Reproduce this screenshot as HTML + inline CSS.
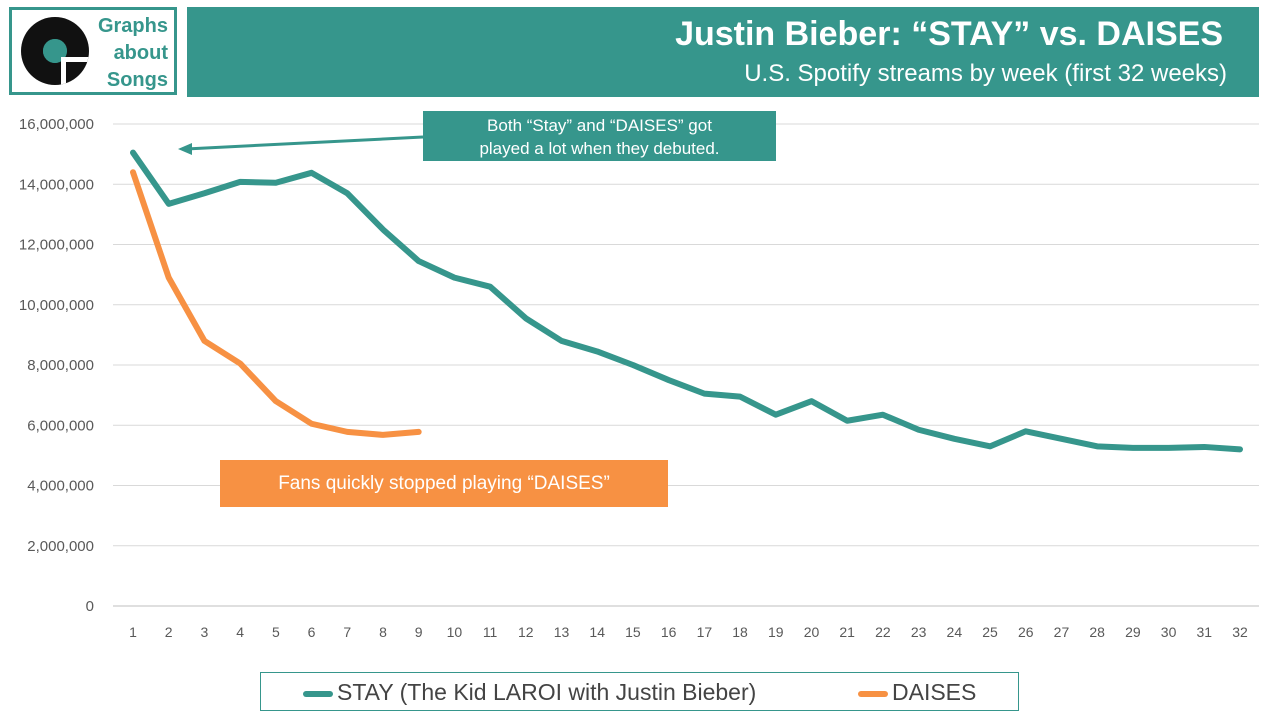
<!DOCTYPE html>
<html><head><meta charset="utf-8"><style>
body{margin:0;width:1280px;height:720px;background:#fff;font-family:"Liberation Sans",sans-serif;overflow:hidden;position:relative}
.abs{position:absolute}
</style></head><body>
<div class="abs" style="left:9px;top:7px;width:168px;height:88px;border:3px solid #36968c;box-sizing:border-box;overflow:hidden">
<svg width="80" height="78" style="position:absolute;left:5px;top:3px">
<defs><clipPath id="disc"><circle cx="38" cy="38" r="34"/></clipPath></defs>
<circle cx="38" cy="38" r="34" fill="#111"/><circle cx="38" cy="38" r="12" fill="#36968c"/>
<g clip-path="url(#disc)"><rect x="44" y="44" width="40" height="40" fill="#fff"/>
<rect x="49" y="49" width="40" height="40" fill="#111"/></g>
<circle cx="38" cy="38" r="12" fill="#36968c" clip-path="polygon(0 0,100% 0,100% 56%,61% 56%,61% 100%,0 100%)"/>
</svg>
<div class="abs" style="right:6px;top:3px;text-align:right;color:#36968c;font-weight:bold;font-size:20px;line-height:27px">Graphs<br>about<br>Songs</div>
</div>
<div class="abs" style="left:187px;top:7px;width:1072px;height:90px;background:#36968c;color:#fff;text-align:right">
<div style="position:absolute;right:36px;top:8px;font-size:34px;font-weight:bold">Justin Bieber: “STAY” vs. DAISES</div>
<div style="position:absolute;right:32px;top:53px;font-size:24px">U.S. Spotify streams by week (first 32 weeks)</div>
</div>
<svg id="chart" class="abs" style="left:0;top:0" width="1280" height="720"></svg>
<div class="abs" style="left:423px;top:111px;width:353px;height:50px;background:#36968c;color:#fff;font-size:17px;text-align:center;line-height:23px;padding-top:3px;box-sizing:border-box">Both “Stay” and “DAISES” got<br>played a lot when they debuted.</div>
<div class="abs" style="left:220px;top:460px;width:448px;height:47px;background:#f79143;color:#fff;font-size:19px;text-align:center;line-height:47px">Fans quickly stopped playing “DAISES”</div>
<div class="abs" style="left:260px;top:672px;width:759px;height:39px;border:1px solid #36968c;box-sizing:border-box;font-size:23px;color:#444">
<span style="position:absolute;left:42px;top:6px"><span style="display:inline-block;width:30px;height:6px;background:#36968c;border-radius:3px;vertical-align:middle;margin-right:4px"></span>STAY (The Kid LAROI with Justin Bieber)</span>
<span style="position:absolute;left:597px;top:6px"><span style="display:inline-block;width:30px;height:6px;background:#f79143;border-radius:3px;vertical-align:middle;margin-right:4px"></span>DAISES</span>
</div>
<script>
const weeks=[1,2,3,4,5,6,7,8,9,10,11,12,13,14,15,16,17,18,19,20,21,22,23,24,25,26,27,28,29,30,31,32];
const stay=[15.05,13.35,13.7,14.08,14.05,14.38,13.7,12.5,11.45,10.9,10.6,9.55,8.8,8.45,8.0,7.5,7.05,6.95,6.35,6.8,6.15,6.35,5.85,5.55,5.3,5.8,5.55,5.3,5.25,5.25,5.28,5.2].map(v=>v*1e6);
const daises=[14.4,10.9,8.8,8.05,6.8,6.05,5.78,5.68,5.78].map(v=>v*1e6);
const yTicks=[0,2e6,4e6,6e6,8e6,10e6,12e6,14e6,16e6];
const svg=document.getElementById('chart'),NS='http://www.w3.org/2000/svg';
const x=w=>133+(w-1)*(1240-133)/31;
const y=v=>606-v*(606-124)/16e6;
function mk(t,a){const e=document.createElementNS(NS,t);for(const k in a)e.setAttribute(k,a[k]);svg.appendChild(e);return e;}
yTicks.forEach(t=>{
 const g=mk('line',{x1:113,x2:1259,y1:y(t),y2:y(t),stroke:t?'#d9d9d9':'#bfbfbf','stroke-width':1});
 
 
 const l=mk('text',{x:94,y:y(t)+5,'text-anchor':'end','font-size':15,fill:'#595959','font-family':'Liberation Sans'});
 l.textContent=t.toLocaleString('en-US');
 
 
});
weeks.forEach(w=>{
 const l=mk('text',{x:x(w),y:637,'text-anchor':'middle','font-size':14,fill:'#595959','font-family':'Liberation Sans'});
 l.textContent=w;
 
 
});
function line(d,c,n){
 const p=mk('polyline',{points:d.map((v,i)=>x(weeks[i])+','+y(v)).join(' '),fill:'none',stroke:c,'stroke-width':6,'stroke-linejoin':'round','stroke-linecap':'round'});
 
 
}
line(stay,'#36968c','stay-line');
line(daises,'#f79143','daises-line');
const a=mk('line',{x1:423,y1:137,x2:186,y2:149,stroke:'#36968c','stroke-width':3});


const h=mk('polygon',{points:'178,149 192,143 192,155',fill:'#36968c'});


</script>
</body></html>
